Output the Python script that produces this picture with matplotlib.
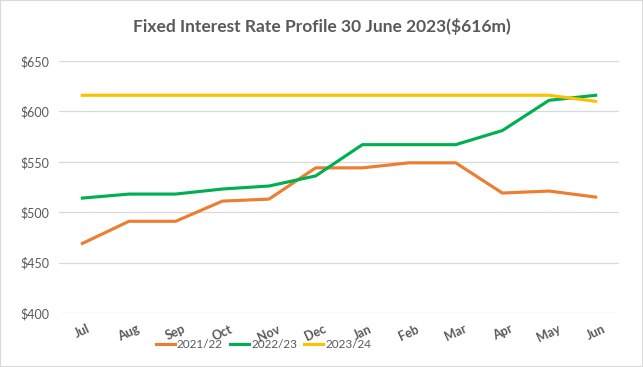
import matplotlib.pyplot as plt
import numpy as np

months = ["Jul", "Aug", "Sep", "Oct", "Nov", "Dec", "Jan", "Feb", "Mar", "Apr", "May", "Jun"]
fy2122 = [469, 491, 491, 511, 513, 544, 544, 549, 549, 519, 521, 515]
fy2223 = [514, 518, 518, 523, 526, 536, 567, 567, 567, 581, 611, 616]
fy2324 = [616, 616, 616, 616, 616, 616, 616, 616, 616, 616, 616, 610]

plt.rcParams['font.family'] = ['Lato', 'DejaVu Sans']
grey = "#595959"

fig = plt.figure(figsize=(6.43, 3.67), dpi=100)
ax = fig.add_axes([0.0918, 0.1471, 0.8709, 0.6867])

x = np.arange(len(months))
ax.plot(x, fy2122, color="#ED7D31", lw=2.25, label="2021/22")
ax.plot(x, fy2223, color="#00B050", lw=2.25, label="2022/23")
ax.plot(x, fy2324, color="#FFC000", lw=2.25, label="2023/24")

ax.set_xlim(-0.5, 11.5)
ax.set_ylim(400, 650)
ax.set_yticks(np.arange(400, 651, 50))
ax.set_yticklabels(["$%d" % v for v in np.arange(400, 651, 50)], color=grey, fontsize=9)
ax.set_xticks(x)
ax.set_xticklabels(months, rotation=25, color=grey, fontsize=9, fontweight="bold")
ax.grid(axis="y", color="#D9D9D9", lw=0.9)
ax.set_axisbelow(True)
for s in ax.spines.values():
    s.set_visible(False)
ax.tick_params(length=0, pad=7)

fig.suptitle("Fixed Interest Rate Profile 30 June 2023($616m)", y=0.95,
             fontsize=12.5, fontweight="bold", color=grey)
fig.legend(loc="center", bbox_to_anchor=(0.41, 0.06), ncol=3, frameon=False,
           fontsize=8.5, handlelength=1.6, columnspacing=0.6, handletextpad=0.2,
           labelcolor=grey)

fig.patches.append(plt.Rectangle((0, 0), 1, 1, transform=fig.transFigure,
                                 fill=False, edgecolor="#D9D9D9", lw=1.5))
fig.savefig("out.png", dpi=100)
